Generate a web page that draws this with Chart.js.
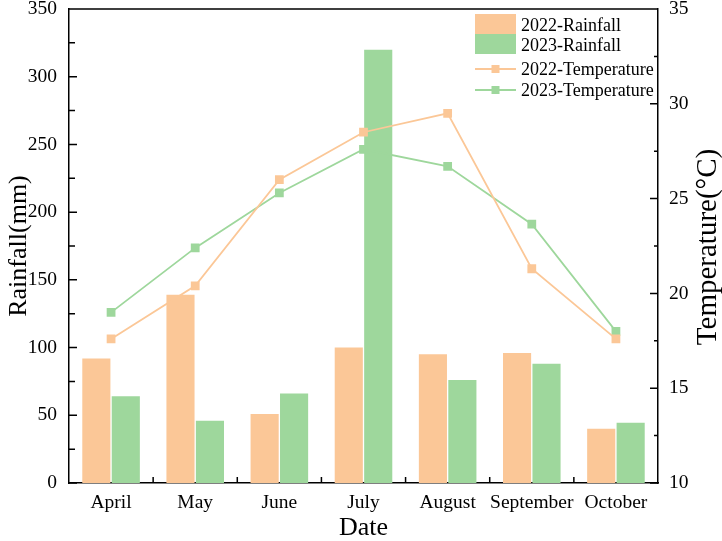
<!DOCTYPE html>
<html>
<head>
<meta charset="utf-8">
<script src="https://cdn.jsdelivr.net/npm/chart.js@4.4.1/dist/chart.umd.min.js"></script>
<style>
  body { margin: 0; background: #fff; }
  #wrap { width: 722px; height: 541px; position: relative; }
</style>
</head>
<body>
<div id="wrap"><canvas id="climate"></canvas></div>
<script>
// data
var months = ['April', 'May', 'June', 'July', 'August', 'September', 'October'];
var rain2022 = [92, 139, 51, 100, 95, 96, 40];
var rain2023 = [64, 46, 66, 320, 76, 88, 44.5];
var temp2022 = [17.6, 20.4, 26.0, 28.5, 29.5, 21.3, 17.6];
var temp2023 = [19.0, 22.4, 25.3, 27.6, 26.7, 23.65, 18.0];
var rainTicks = [0, 50, 100, 150, 200, 250, 300, 350];
var tempTicks = [10, 15, 20, 25, 30, 35];

var orange = '#FBC797';
var green = '#9ED79C';
var serif = "'Liberation Serif', 'Times New Roman', serif";

/*
 * Frame, inner tick marks, right axis title and legend
 */
var framePlugin = {
    id: 'frame',
    afterDraw: function (chart) {
        var ctx = chart.ctx;
        var a = chart.chartArea;
        var x = chart.scales.x, yl = chart.scales.y, yr = chart.scales.y1;
        ctx.save();
        ctx.strokeStyle = '#000';
        ctx.lineWidth = 1.5;
        ctx.beginPath();
        ctx.moveTo(a.left, a.top);
        ctx.lineTo(a.right, a.top);
        var i, py, px;
        // left axis: majors + minors halfway
        var ls = (rainTicks[1] - rainTicks[0]) / 2;
        for (i = 0; i <= (rainTicks.length - 1) * 2; i++) {
            py = yl.getPixelForValue(rainTicks[0] + i * ls);
            ctx.moveTo(a.left, py);
            ctx.lineTo(a.left + (i % 2 ? 6 : 8), py);
        }
        var rs = (tempTicks[1] - tempTicks[0]) / 2;
        for (i = 0; i <= (tempTicks.length - 1) * 2; i++) {
            py = yr.getPixelForValue(tempTicks[0] + i * rs);
            ctx.moveTo(a.right, py);
            ctx.lineTo(a.right - (i % 2 ? 4 : 8), py);
        }
        for (i = 1; i < months.length; i++) {
            px = (x.getPixelForValue(i - 1) + x.getPixelForValue(i)) / 2;
            ctx.moveTo(px, a.bottom);
            ctx.lineTo(px, a.bottom - 6);
        }
        ctx.stroke();

        // right title, reading bottom to top like the left one
        ctx.fillStyle = '#000';
        ctx.font = '29px ' + serif;
        ctx.textAlign = 'center';
        ctx.textBaseline = 'alphabetic';
        ctx.save();
        ctx.translate(716, 247);
        ctx.rotate(-Math.PI / 2);
        ctx.fillText('Temperature(\u00B0C)', 0, 0);
        ctx.restore();

        // legend
        var ds = chart.data.datasets;
        var rows = [31, 51, 75, 96];
        ctx.font = '18px ' + serif;
        ctx.textAlign = 'left';
        for (i = 0; i < ds.length; i++) {
            var base = rows[i];
            if (ds[i].type === 'bar') {
                ctx.fillStyle = ds[i].backgroundColor;
                ctx.fillRect(475, base - 17, 41, 20);
            } else {
                var cy = base - 6;
                ctx.strokeStyle = ds[i].borderColor;
                ctx.lineWidth = ds[i].borderWidth;
                ctx.beginPath();
                ctx.moveTo(475, cy);
                ctx.lineTo(516, cy);
                ctx.stroke();
                ctx.fillStyle = ds[i].backgroundColor;
                ctx.fillRect(491.5, cy - 4, 8, 8);
            }
            ctx.fillStyle = '#000';
            ctx.fillText(ds[i].label, 521, base);
        }
        ctx.restore();
    }
};

function lineSet(label, data, color) {
    return {
        type: 'line',
        label: label,
        data: data,
        yAxisID: 'y1',
        borderColor: color,
        backgroundColor: color,
        borderWidth: 1.8,
        pointStyle: 'rect',
        pointRadius: 6.2,
        pointBorderWidth: 0,
        tension: 0,
        order: 0
    };
}

function barSet(label, data, color) {
    return {
        type: 'bar',
        label: label,
        data: data,
        yAxisID: 'y',
        backgroundColor: color,
        borderWidth: 0,
        categoryPercentage: 0.7,
        barPercentage: 0.955,
        order: 1
    };
}

// the scales add label padding to the chart area; the frame is fixed here instead
function noPad(s) {
    s.paddingTop = 0;
    s.paddingBottom = 0;
    s.paddingLeft = 0;
    s.paddingRight = 0;
}

var tickFont = { family: serif, size: 19.5 };

var ctx = document.getElementById('climate').getContext('2d');
var chart = new Chart(ctx, {
    data: {
        labels: months,
        datasets: [
            barSet('2022-Rainfall', rain2022, orange),
            barSet('2023-Rainfall', rain2023, green),
            lineSet('2022-Temperature', temp2022, orange),
            lineSet('2023-Temperature', temp2023, green)
        ]
    },
    options: {
        responsive: true,
        maintainAspectRatio: false,
        animation: false,
        layout: { padding: { top: 9, left: 0, right: 0, bottom: 0 } },
        plugins: {
            legend: { display: false },
            tooltip: { enabled: false }
        },
        scales: {
            x: {
                grid: { display: false, drawTicks: false },
                border: { color: '#000', width: 1.5 },
                ticks: { color: '#000', font: tickFont, padding: 8, maxRotation: 0, autoSkip: false },
                title: {
                    display: true, text: 'Date', color: '#000', padding: 0,
                    font: { family: serif, size: 26, lineHeight: 1 }
                },
                afterFit: function (s) { s.height = 58; noPad(s); }
            },
            y: {
                position: 'left',
                min: rainTicks[0],
                max: rainTicks[rainTicks.length - 1],
                afterBuildTicks: function (s) {
                    s.ticks = rainTicks.map(function (v) { return { value: v }; });
                },
                grid: { display: false, drawTicks: false },
                border: { color: '#000', width: 1.5 },
                ticks: { color: '#000', font: tickFont, padding: 12 },
                title: {
                    display: true, text: 'Rainfall(mm)', color: '#000',
                    padding: { top: 4, bottom: 0 },
                    font: { family: serif, size: 26, lineHeight: 1.2 }
                },
                afterFit: function (s) { s.width = 69; noPad(s); }
            },
            y1: {
                position: 'right',
                min: tempTicks[0],
                max: tempTicks[tempTicks.length - 1],
                afterBuildTicks: function (s) {
                    s.ticks = tempTicks.map(function (v) { return { value: v }; });
                },
                grid: { display: false, drawTicks: false },
                border: { color: '#000', width: 1.5 },
                ticks: { color: '#000', font: tickFont, padding: 11 },
                afterFit: function (s) { s.width = 64; noPad(s); }
            }
        }
    },
    plugins: [framePlugin]
});
</script>
</body>
</html>
